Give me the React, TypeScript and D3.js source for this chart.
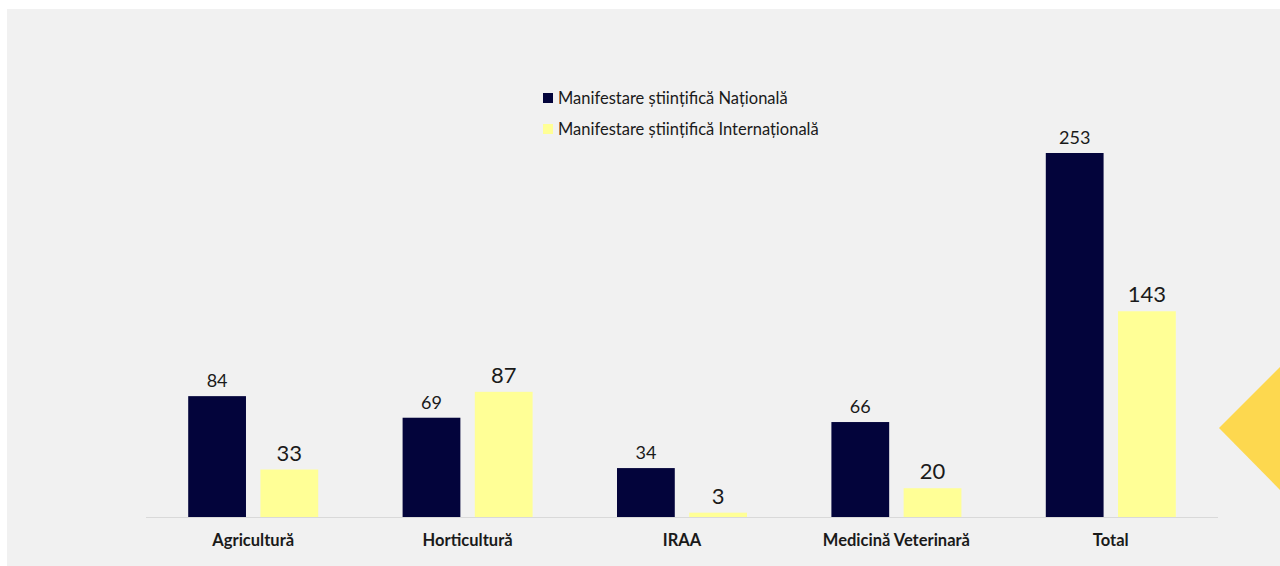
import * as d3 from 'd3'
import { useEffect, useRef } from 'react'

const width = 1280
const height = 566
const marginLeft = 146
const marginRight = 62
const baseline = 517
const plotTop = 153

const categories = ['Agricultură', 'Horticultură', 'IRAA', 'Medicină Veterinară', 'Total']
const seriesNames = ['Manifestare științifică Națională', 'Manifestare științifică Internațională']
const national = [84, 69, 34, 66, 253]
const international = [33, 87, 3, 20, 143]
const seriesColors = ['#03043b', '#ffff96']

export default function App() {
  const ref = useRef<SVGSVGElement>(null)

  useEffect(() => {
    const svg = d3.select(ref.current)
    svg.selectAll('*').remove()

    // background panel
    svg.append('rect').attr('width', width).attr('height', height).attr('fill', '#ffffff')
    svg
      .append('rect')
      .attr('x', 7)
      .attr('y', 9)
      .attr('width', width - 7)
      .attr('height', height - 9)
      .attr('fill', '#f1f1f1')

    // decorative diamond on the right edge
    svg
      .append('path')
      .attr('d', 'M1219,428 L1280,367 L1280,490 Z')
      .attr('fill', '#fdd84f')

    const x = d3.scaleBand(categories, [marginLeft, width - marginRight]).padding(0)
    const inner = d3
      .scaleBand([0, 1], [x.bandwidth() / 2 - 65, x.bandwidth() / 2 + 65])
      .paddingInner(0.2)
    const y = d3.scaleLinear([0, 253], [baseline, plotTop])

    const rows = categories.map((c, i) => ({ c, vals: [national[i], international[i]] }))

    // axis line
    svg
      .append('line')
      .attr('x1', marginLeft)
      .attr('x2', width - marginRight)
      .attr('y1', baseline + 0.5)
      .attr('y2', baseline + 0.5)
      .attr('stroke', '#d9d9d9')
      .attr('stroke-width', 1)

    const groups = svg
      .selectAll('g.cat')
      .data(rows)
      .join('g')
      .attr('class', 'cat')
      .attr('transform', d => `translate(${x(d.c)},0)`)

    groups
      .selectAll('rect')
      .data(d => d.vals.map((v, s) => ({ v, s })))
      .join('rect')
      .attr('x', d => inner(d.s)!)
      .attr('width', inner.bandwidth())
      .attr('y', d => y(d.v))
      .attr('height', d => baseline - y(d.v))
      .attr('fill', d => seriesColors[d.s])

    groups
      .selectAll('text.val')
      .data(d => d.vals.map((v, s) => ({ v, s })))
      .join('text')
      .attr('class', 'val')
      .attr('x', d => inner(d.s)! + inner.bandwidth() / 2)
      .attr('y', d => y(d.v) - 9)
      .attr('text-anchor', 'middle')
      .attr('font-family', 'Lato, "Open Sans", sans-serif')
      .attr('font-size', d => (d.s === 0 ? 18 : 22))
      .attr('fill', '#1a1a1a')
      .text(d => d.v)

    // category labels
    groups
      .append('text')
      .attr('x', x.bandwidth() / 2)
      .attr('y', 546)
      .attr('text-anchor', 'middle')
      .attr('font-family', 'Lato, "Open Sans", sans-serif')
      .attr('font-weight', 'bold')
      .attr('font-size', 16.5)
      .attr('fill', '#1a1a1a')
      .text(d => d.c)

    // legend
    const legend = svg
      .selectAll('g.legend')
      .data(seriesNames)
      .join('g')
      .attr('class', 'legend')
      .attr('transform', (_, i) => `translate(543,${93 + i * 31})`)

    legend
      .append('rect')
      .attr('width', 10)
      .attr('height', 10)
      .attr('fill', (_, i) => seriesColors[i])

    legend
      .append('text')
      .attr('x', 15)
      .attr('y', 10.5)
      .attr('font-family', 'Lato, "Open Sans", sans-serif')
      .attr('font-size', 16.5)
      .attr('fill', '#1a1a1a')
      .text(d => d)
  }, [])

  return (
    <svg
      ref={ref}
      width={width}
      height={height}
      viewBox={`0 0 ${width} ${height}`}
      style={{ position: 'absolute', left: 0, top: 0 }}
    ></svg>
  )
}
